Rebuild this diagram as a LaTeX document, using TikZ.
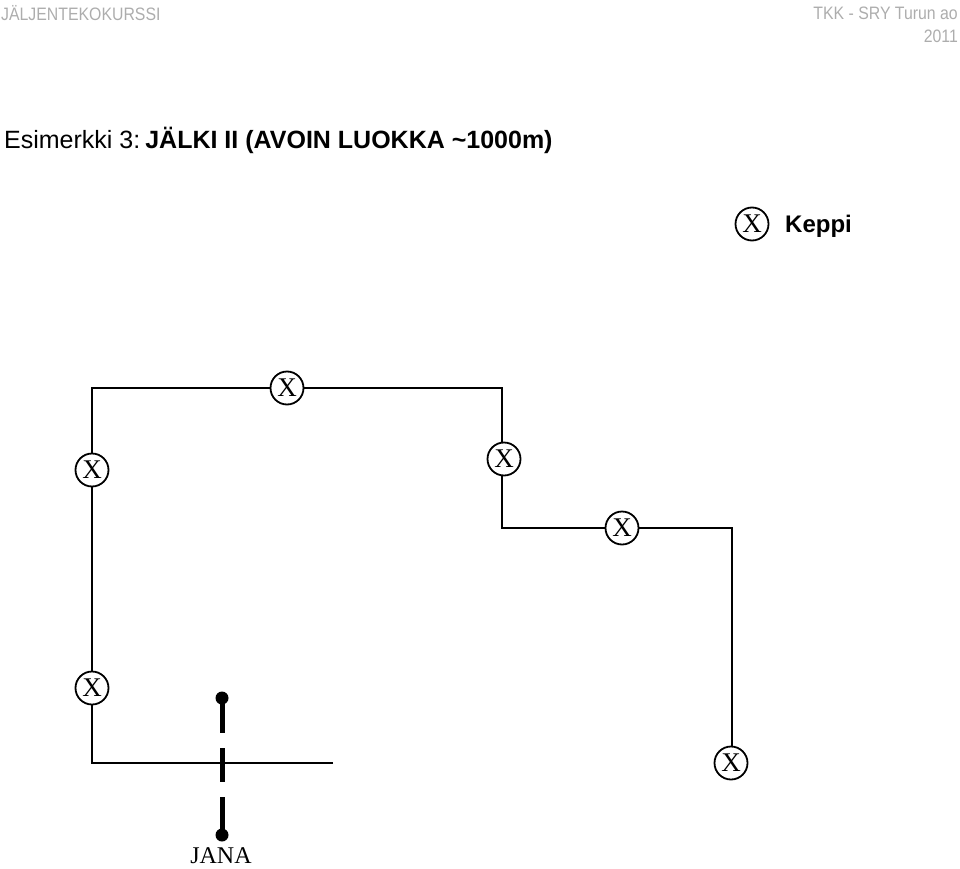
\documentclass[tikz,border=0pt]{standalone}
\usepackage{fontspec}
\setmainfont{Liberation Serif}
\newfontfamily\hdfont{Liberation Sans}
\newfontfamily\hdnarrow[FakeStretch=0.88]{Liberation Sans}
\begin{document}
\begin{tikzpicture}[x=1pt,y=-1pt,
  keppi/.style={circle,draw,line width=1.8pt,minimum size=33pt,inner sep=0pt,fill=white,
    font=\fontsize{27}{27}\selectfont},
  track/.style={line width=2pt},
  hdr/.style={text=black!32,font=\hdnarrow\fontsize{18}{18}\selectfont,inner sep=0pt},
  janaline/.style={line width=5pt},
  dot/.style={circle,fill=black,minimum size=13pt,inner sep=0pt}]
\useasboundingbox (0,0) rectangle (960,869);
% header
\node[hdr,anchor=west] (h1) at (1,13) {JÄLJENTEKOKURSSI};
\node[hdr,anchor=east] (h2) at (958,13) {TKK - SRY Turun ao};
\node[hdr,anchor=east] (h3) at (958,36) {2011};
% title
\node[anchor=base west,inner sep=0pt,font=\hdfont\fontsize{25}{25}\selectfont] (title) at (4,149)
  {Esimerkki 3:\hspace{0.2em}\textbf{JÄLKI II (AVOIN LUOKKA \char`\~1000m)}};
% legend
\node[keppi] (leg) at (752,224) {X};
\node[anchor=west,inner sep=0pt,font=\hdfont\bfseries\fontsize{24}{24}\selectfont] (legt) at (785,226) {Keppi};
% track corners
\coordinate (s) at (333,763);
\coordinate (c1) at (92,763);
\coordinate (c2) at (92,388);
\coordinate (c3) at (502,388);
\coordinate (c4) at (502,528);
\coordinate (c5) at (732,528);
\coordinate (e) at (732,763);
\draw[track] (s) -- (c1) -- (c2) -- (c3) -- (c4) -- (c5) -- (e);
% sticks
\node[keppi] (k1) at (92,470) {X};
\node[keppi] (k2) at (287,388) {X};
\node[keppi] (k3) at (504,459) {X};
\node[keppi] (k4) at (622,528) {X};
\node[keppi] (k5) at (92,688) {X};
\node[keppi] (k6) at (731,763) {X};
% jana
\node[dot] (j1) at (222,698) {};
\node[dot] (j2) at (222,835) {};
\draw[janaline,dash pattern=on 35pt off 15pt on 34pt off 15pt on 40pt] (j1.center) -- (j2.center);
\node[inner sep=0pt,font=\fontsize{24}{24}\selectfont] (jana) at (221,856) {JANA};
\end{tikzpicture}
\end{document}
